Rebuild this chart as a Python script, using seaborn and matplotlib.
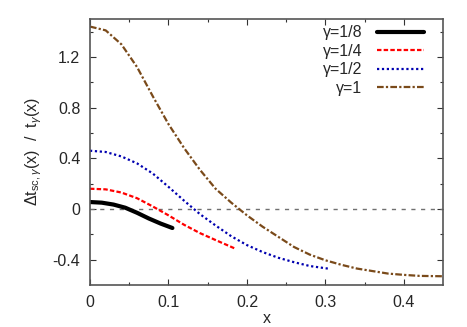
import matplotlib
matplotlib.use('Agg')
import matplotlib.pyplot as plt
import numpy as np
import pandas as pd
import seaborn as sns

# valores
x_g8 = [0, 0.015, 0.03, 0.045, 0.06, 0.075, 0.09, 0.105]
y_g8 = [0.055, 0.05, 0.035, 0.01, -0.03, -0.075, -0.115, -0.15]

x_g4 = [0, 0.02, 0.04, 0.06, 0.08, 0.1, 0.12, 0.14, 0.16, 0.184]
y_g4 = [0.16, 0.155, 0.13, 0.085, 0.02, -0.05, -0.125, -0.19, -0.245, -0.31]

x_g2 = [0, 0.02, 0.04, 0.06, 0.08, 0.1, 0.12, 0.14, 0.16, 0.18, 0.2, 0.22, 0.24, 0.26, 0.28, 0.305]
y_g2 = [0.46, 0.45, 0.415, 0.36, 0.28, 0.175, 0.065, -0.04, -0.13, -0.215, -0.285, -0.34, -0.385, -0.42, -0.45, -0.472]

x_g1 = [0, 0.02, 0.04, 0.06, 0.08, 0.1, 0.12, 0.14, 0.16, 0.18, 0.2, 0.22,
        0.24, 0.26, 0.28, 0.3, 0.32, 0.34, 0.36, 0.38, 0.4, 0.42, 0.45]
y_g1 = [1.44, 1.41, 1.30, 1.12, 0.89, 0.67, 0.48, 0.31, 0.16, 0.05, -0.05, -0.14,
        -0.22, -0.30, -0.36, -0.405, -0.44, -0.47, -0.49, -0.51, -0.52, -0.528, -0.531]

etiquetas = ['γ=1/8', 'γ=1/4', 'γ=1/2', 'γ=1']

sns.set_style('ticks')
plt.rcParams['font.family'] = ['Liberation Sans', 'DejaVu Sans']
plt.rcParams['mathtext.fontset'] = 'custom'
plt.rcParams['mathtext.rm'] = 'Liberation Sans'
plt.rcParams['mathtext.it'] = 'Liberation Sans:italic'
plt.rcParams['font.size'] = 11.5

fig = plt.figure(figsize=(4.67, 3.27), dpi=100)
ax = fig.add_axes([0.1927, 0.1284, 0.7563, 0.8136])

ax.axhline(0, color='#707070', ls=(0, (3, 4)), lw=1.0)

sns.lineplot(x=x_g8, y=y_g8, ax=ax, color='black', lw=3, sort=False, label=etiquetas[0])
sns.lineplot(x=x_g4, y=y_g4, ax=ax, color='#ff0000', lw=1.6, ls=(0, (2, 1)), sort=False, label=etiquetas[1])
sns.lineplot(x=x_g2, y=y_g2, ax=ax, color='#0000b0', lw=1.6, ls=(0, (1, 1.2)), sort=False, label=etiquetas[2])
sns.lineplot(x=x_g1, y=y_g1, ax=ax, color='#7a4a1a', lw=1.6, ls=(0, (3, 1, 1, 1)), sort=False, label=etiquetas[3])

ax.set_xlim(0, 0.45)
ax.set_ylim(-0.6, 1.5)
ax.set_xticks([0, 0.1, 0.2, 0.3, 0.4])
ax.set_xticklabels(['0', '0.1', '0.2', '0.3', '0.4'])
ax.set_yticks([-0.4, 0, 0.4, 0.8, 1.2])
ax.set_yticklabels(['-0.4', '0', '0.4', '0.8', '1.2'])
ax.set_xticks(np.arange(0.05, 0.45, 0.1), minor=True)
ax.set_yticks([-0.2, 0.2, 0.6, 1.0, 1.4], minor=True)
ax.tick_params(which='both', direction='in', top=True, right=True, color='#333333', pad=7)
ax.tick_params(which='major', length=4.5, width=0.8)
ax.tick_params(which='minor', length=2.5, width=0.8)
for s in ax.spines.values():
    s.set_color('#555555')
    s.set_linewidth(1.2)

ax.set_xlabel('x', labelpad=1)
ax.set_ylabel(r'$\Delta$t$_{\mathrm{sc,}\gamma}$(x)  /  t$_\gamma$(x)', labelpad=6)

ax.legend(loc='upper right', bbox_to_anchor=(0.965, 1.0), markerfirst=False, frameon=False,
          handlelength=3.0, labelspacing=0.22, handletextpad=0.9, borderaxespad=0.0, fontsize=11.5)

fig.savefig('out.png', dpi=100)
